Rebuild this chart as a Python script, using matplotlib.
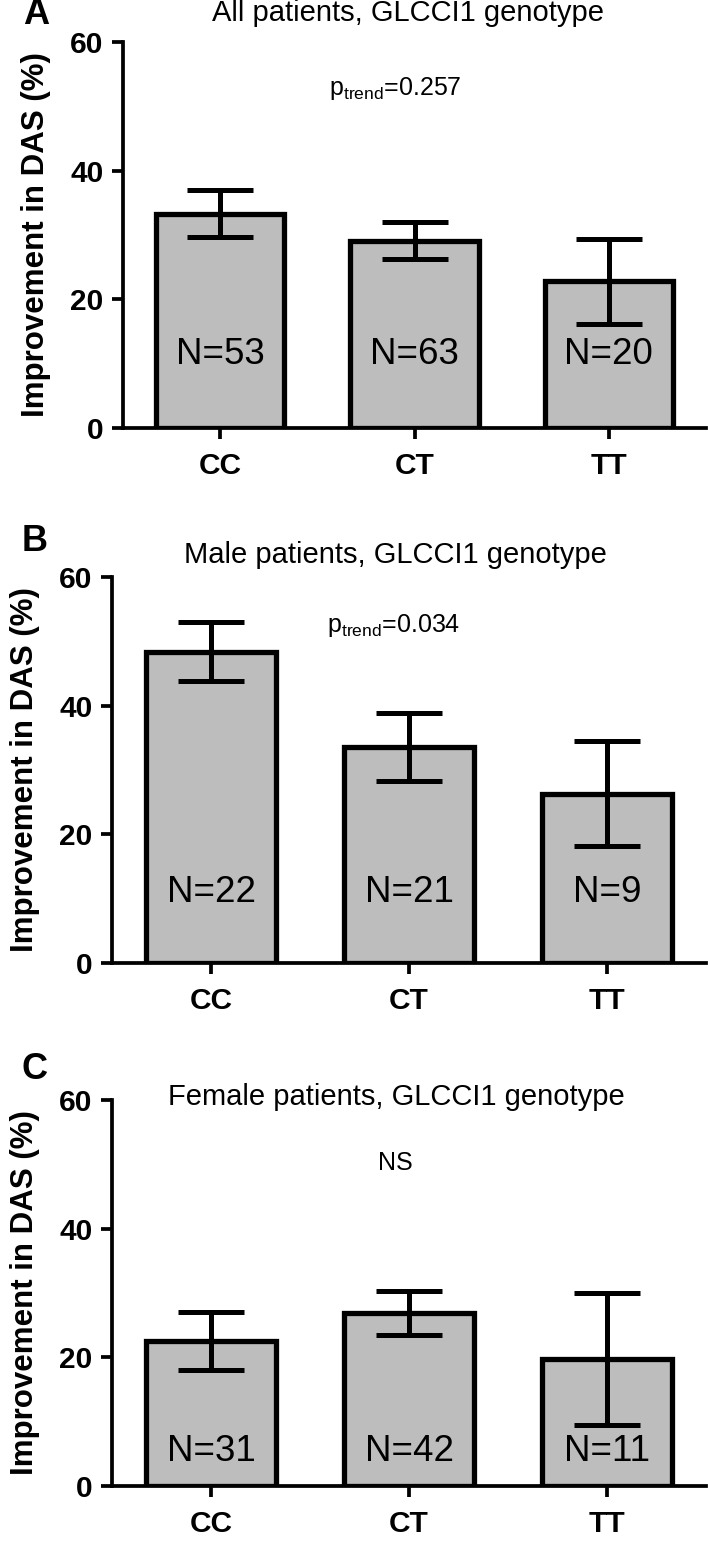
import numpy as np
import matplotlib
matplotlib.use('Agg')
import matplotlib.pyplot as plt

plt.rcParams['font.family'] = ['Liberation Sans', 'DejaVu Sans']
plt.rcParams['mathtext.default'] = 'regular'

# data (mean % improvement in DAS, +/- SEM)
genotypes = ['CC', 'CT', 'TT']
panel_letters = ['A', 'B', 'C']
titles = ['All patients, GLCCI1 genotype',
          'Male patients, GLCCI1 genotype',
          'Female patients, GLCCI1 genotype']
means_all = [33.3, 29.1, 22.8]
sem_all = [3.65, 2.85, 6.6]
means_male = [48.4, 33.6, 26.3]
sem_male = [4.6, 5.25, 8.15]
means_female = [22.6, 26.9, 19.8]
sem_female = [4.5, 3.45, 10.25]
n_all = [53, 63, 20]
n_male = [22, 21, 9]
n_female = [31, 42, 11]
stat_text = ['$p_{trend}$=0.257', '$p_{trend}$=0.034', 'NS']
yticks = [0, 20, 40, 60]

means = [means_all, means_male, means_female]
sems = [sem_all, sem_male, sem_female]
ns = [n_all, n_male, n_female]

W, H = 708, 1543
fig = plt.figure(figsize=(W / 100, H / 100), dpi=100)

# axes boxes in pixels: left, right, top, bottom
boxes = [(123, 706, 42, 428), (112, 706, 577, 963), (112, 706, 1100, 1486)]
stat_pos = [(0.9, 52.8), (0.92, 52.5), (0.93, 50.2)]
n_y = [11.4, 11.0, 5.4]
title_xy = [(0.489, 1.075), (0.478, 1.057), (0.478, 1.008)]
letter_xy = [(-0.149, 1.07), (-0.13, 1.093), (-0.13, 1.078)]
ylab_x = [-0.150, -0.147, -0.147]

for i in range(3):
    l, r, t, b = boxes[i]
    ax = fig.add_axes([l / W, 1 - b / H, (r - l) / W, (b - t) / H])
    x = np.arange(len(genotypes))
    ax.bar(x, means[i], width=0.66, color='#bdbdbd', edgecolor='black',
           linewidth=3.8, zorder=2)
    ax.errorbar(x, means[i], yerr=sems[i], fmt='none', ecolor='black',
                elinewidth=3.6, capsize=24, capthick=3.6, zorder=3)
    for xi, n in zip(x, ns[i]):
        ax.text(xi, n_y[i], f'N={n}', ha='center', va='center', fontsize=26.5, zorder=4)
    ax.text(stat_pos[i][0], stat_pos[i][1], stat_text[i], ha='center', va='center',
            fontsize=18)
    ax.set_xlim(-0.5, 2.5)
    ax.set_ylim(0, 60)
    ax.set_yticks(yticks)
    ax.set_xticks(x, genotypes)
    ax.spines['top'].set_visible(False)
    ax.spines['right'].set_visible(False)
    ax.spines['left'].set_linewidth(2.7)
    ax.spines['bottom'].set_linewidth(2.7)
    ax.tick_params(axis='both', direction='out', length=8, width=2.7,
                   labelsize=21.5)
    ax.tick_params(axis='y', pad=6)
    ax.tick_params(axis='x', pad=9)
    for lab in ax.get_xticklabels() + ax.get_yticklabels():
        lab.set_fontweight('bold')
    ax.set_ylabel('Improvement in DAS (%)', fontsize=22.5, fontweight='bold', va='center')
    ax.yaxis.set_label_coords(ylab_x[i], 0.5)
    ax.text(title_xy[i][0], title_xy[i][1], titles[i], transform=ax.transAxes,
            ha='center', va='center', fontsize=21)
    ax.text(letter_xy[i][0], letter_xy[i][1], panel_letters[i], transform=ax.transAxes,
            ha='center', va='center', fontsize=26, fontweight='bold')

fig.savefig('out.png', dpi=100)
